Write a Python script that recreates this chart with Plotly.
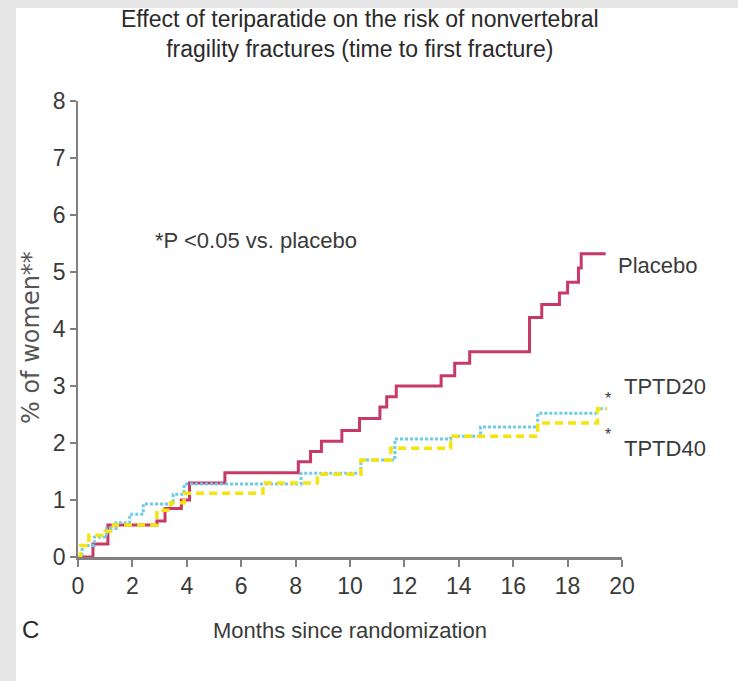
import plotly.graph_objects as go

# ---- data ----
placebo_x = [0, 0.55, 1.1, 2.9, 3.2, 3.8, 4.1, 5.4, 8.1, 8.55, 8.95, 9.7, 10.35, 11.1, 11.35, 11.7,
             13.35, 13.85, 14.4, 16.6, 17.05, 17.7, 18.0, 18.4, 18.5, 19.4]
placebo_y = [0, 0.23, 0.56, 0.63, 0.85, 1.0, 1.3, 1.48, 1.67, 1.85, 2.03, 2.22, 2.43, 2.63, 2.81, 3.0,
             3.18, 3.4, 3.6, 4.2, 4.43, 4.63, 4.82, 5.07, 5.32, 5.32]

tptd20_x = [0, 0.15, 0.6, 1.05, 1.4, 1.9, 2.4, 3.5, 3.9, 8.2, 10.4, 11.65, 13.7, 14.8, 16.9, 19.1, 19.4]
tptd20_y = [0, 0.2, 0.35, 0.5, 0.6, 0.75, 0.93, 1.1, 1.28, 1.47, 1.7, 2.07, 2.12, 2.28, 2.52, 2.6, 2.6]

tptd40_x = [0, 0.1, 0.4, 1.0, 1.3, 2.9, 3.4, 3.9, 6.8, 8.8, 10.4, 11.5, 13.7, 16.9, 19.1, 19.45]
tptd40_y = [0, 0.2, 0.38, 0.45, 0.56, 0.82, 0.95, 1.12, 1.3, 1.45, 1.7, 1.91, 2.12, 2.35, 2.6, 2.6]

x_ticks = [0, 2, 4, 6, 8, 10, 12, 14, 16, 18, 20]
y_ticks = [0, 1, 2, 3, 4, 5, 6, 7, 8]

title_text = "Effect of teriparatide on the risk of nonvertebral<br>fragility fractures (time to first fracture)"
x_title = "Months since randomization"
y_title = "% of women**"

W, H = 738, 681
ML, MR, MT, MB = 78, 116, 101, 124
PW, PH = W - ML - MR, H - MT - MB

def px2paper_x(px):
    return (px - ML) / PW

def px2paper_y(py):
    return (H - MB - py) / PH

FONT = "Liberation Sans"
TXT = "#3a3a3a"

fig = go.Figure()
fig.add_trace(go.Scatter(x=placebo_x, y=placebo_y, mode="lines", line_shape="hv",
                         line=dict(color="#c83a66", width=3), name="Placebo"))
fig.add_trace(go.Scatter(x=tptd20_x, y=tptd20_y, mode="lines", line_shape="hv",
                         line=dict(color="#6fcbea", width=3, dash="3px,2px"), name="TPTD20"))
fig.add_trace(go.Scatter(x=tptd40_x, y=tptd40_y, mode="lines", line_shape="hv",
                         line=dict(color="#f5e40e", width=3.5, dash="8px,5px"), name="TPTD40"))

def ann(text, px, py, size, xanchor="left", color=TXT, family=FONT, angle=0):
    return dict(text=text, x=px2paper_x(px), y=px2paper_y(py), xref="paper", yref="paper",
                showarrow=False, font=dict(family=family, size=size, color=color),
                xanchor=xanchor, yanchor="middle", textangle=angle, align="center")

annotations = [
    ann(title_text, 360, 34, 23, xanchor="center", color="#2a2a2a"),
    ann("*P <0.05 vs. placebo", 153, 240, 22),
    ann("Placebo", 616, 265, 22),
    ann("TPTD20", 622, 386, 22),
    ann("TPTD40", 622, 448, 22),
    ann("*", 608, 398, 16, xanchor="center"),
    ann("*", 608, 434, 16, xanchor="center"),
    ann("C", 30, 629, 24, xanchor="center", color="#2a2a2a"),
    ann(x_title, 350, 630, 22, xanchor="center"),
    ann(y_title, 31, 338, 24, xanchor="center", color="#555555", family="DejaVu Sans", angle=-90),
]

shapes = [
    # light grey frame strips (left and top) of the original image
    dict(type="rect", xref="paper", yref="paper", layer="below",
         x0=px2paper_x(16), x1=px2paper_x(W + 5), y0=px2paper_y(H + 5), y1=px2paper_y(8),
         fillcolor="white", line=dict(width=0)),
]

fig.update_layout(
    width=W, height=H,
    margin=dict(l=ML, r=MR, t=MT, b=MB),
    paper_bgcolor="#e6e6e6", plot_bgcolor="rgba(0,0,0,0)",
    showlegend=False,
    annotations=annotations, shapes=shapes,
    xaxis=dict(range=[0, 20], tickvals=x_ticks, ticktext=[str(v) for v in x_ticks],
               showgrid=False, zeroline=False, showline=True, linecolor="#808080", linewidth=2.5,
               ticks="outside", ticklen=7, tickwidth=1.5, tickcolor="#808080",
               tickfont=dict(family=FONT, size=23, color=TXT)),
    yaxis=dict(range=[0, 8], tickvals=y_ticks, ticktext=[str(v) for v in y_ticks],
               showgrid=False, zeroline=False, showline=True, linecolor="#808080", linewidth=1.5,
               ticks="outside", ticklen=6, tickwidth=1.5, tickcolor="#808080",
               tickfont=dict(family=FONT, size=23, color=TXT)),
)

fig.write_html("out.html")
